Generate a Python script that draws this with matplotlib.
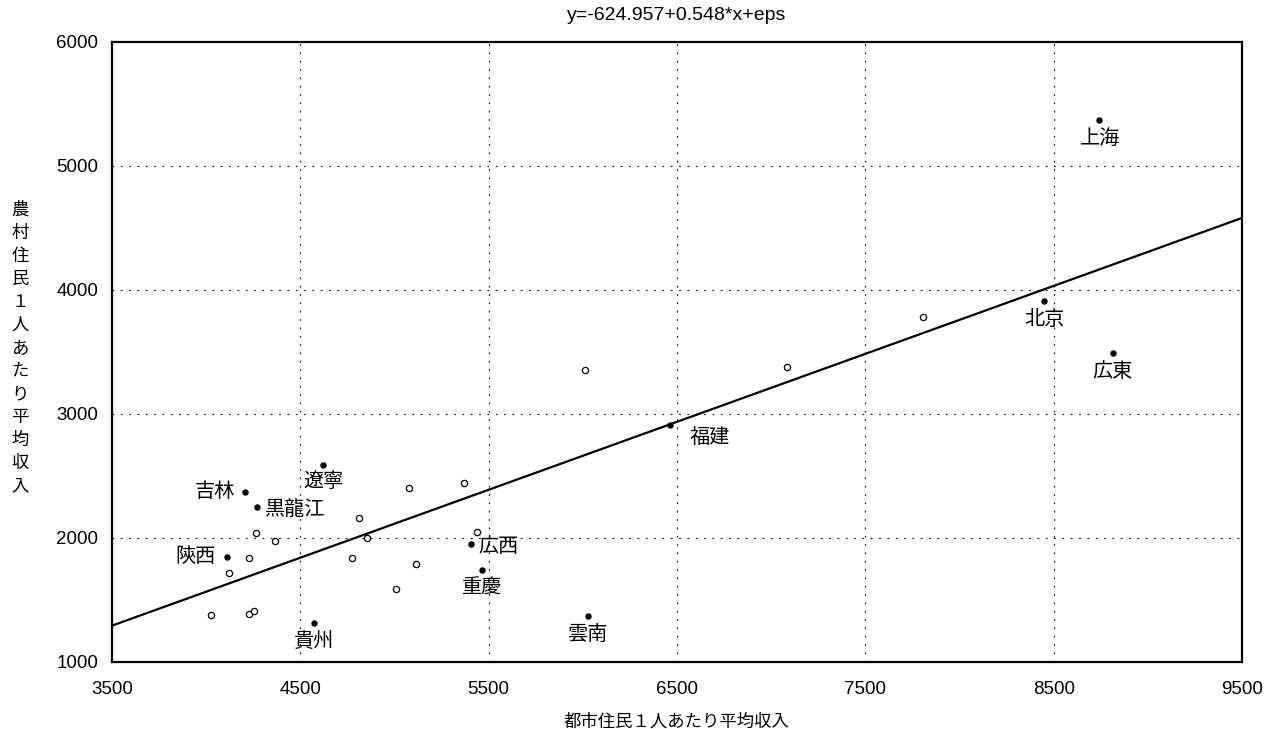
import matplotlib
matplotlib.use("Agg")
import matplotlib.pyplot as plt
import numpy as np

# ---- data ----
labeled_names = ["上海", "北京", "広東", "福建", "遼寧", "吉林", "黒龍江",
                 "陝西", "貴州", "広西", "重慶", "雲南"]
labeled_x = [8741, 8449, 8815, 6463, 4620, 4206, 4270, 4111, 4573, 5406, 5465, 6028]
labeled_y = [5371, 3911, 3492, 2911, 2589, 2371, 2250, 1847, 1315, 1952, 1742, 1371]

other_x = [4265, 4364, 4227, 4123, 4024, 4227, 4256, 4813, 4854, 4776,
           5079, 5369, 5437, 5116, 5006, 6013, 7084, 7806]
other_y = [2040, 1978, 1839, 1718, 1377, 1390, 1411, 2161, 2000, 1836,
           2403, 2441, 2046, 1793, 1591, 3357, 3379, 3782]

intercept = -624.957
slope = 0.548

x_ticks = [3500, 4500, 5500, 6500, 7500, 8500, 9500]
y_ticks = [1000, 2000, 3000, 4000, 5000, 6000]

title = "y=-624.957+0.548*x+eps"
xlabel = "都市住民１人あたり平均収入"
ylabel = "農村住民１人あたり平均収入"

# label placement (offset in points, alignment)
label_style = {
    "上海": ((1, -13), "center", "center"),
    "北京": ((0, -13), "center", "center"),
    "広東": ((0, -13), "center", "center"),
    "福建": ((14, -9), "left", "center"),
    "遼寧": ((0, -12), "center", "center"),
    "吉林": ((-7, 0), "right", "center"),
    "黒龍江": ((6, -2), "left", "center"),
    "陝西": ((-8, 0), "right", "center"),
    "貴州": ((0, -13), "center", "center"),
    "広西": ((5, -2), "left", "center"),
    "重慶": ((0, -13), "center", "center"),
    "雲南": ((0, -13), "center", "center"),
}

cjk = ["Noto Sans CJK JP", "DejaVu Sans"]
latin = ["Liberation Sans", "DejaVu Sans"]

fig = plt.figure(figsize=(12.82, 7.29), dpi=100)
ax = fig.add_axes([112 / 1282, 1 - 662 / 729, 1130 / 1282, 620 / 729])

ax.set_xlim(3500, 9500)
ax.set_ylim(1000, 6000)

# grid
for xv in x_ticks[1:-1]:
    ax.axvline(xv, color="black", lw=0.8, linestyle=(0, (1.5, 6)), zorder=1)
for yv in y_ticks[1:-1]:
    ax.axhline(yv, color="black", lw=0.8, linestyle=(0, (1.5, 6)), zorder=1)

# regression line
xl = np.array([3500, 9500])
ax.plot(xl, intercept + slope * xl, color="black", lw=1.6, zorder=2)

# points
ax.plot(other_x, other_y, linestyle="none", marker="o", markersize=4.5,
        markerfacecolor="white", markeredgecolor="black", markeredgewidth=0.9, zorder=3)
ax.plot(labeled_x, labeled_y, linestyle="none", marker="o", markersize=3.6,
        markerfacecolor="black", markeredgecolor="black", zorder=3)

for name, xv, yv in zip(labeled_names, labeled_x, labeled_y):
    (dx, dy), ha, va = label_style[name]
    ax.annotate(name, (xv, yv), xytext=(dx, dy), textcoords="offset points",
                ha=ha, va=va, fontsize=14.5, family=cjk, zorder=4)

ax.set_xticks(x_ticks)
ax.set_yticks(y_ticks)
ax.set_xticklabels([str(v) for v in x_ticks], family=latin, fontsize=13.5)
ax.set_yticklabels([str(v) for v in y_ticks], family=latin, fontsize=13.5)
ax.tick_params(axis="y", length=0, pad=10)
ax.tick_params(axis="x", length=0, pad=14)
for s in ax.spines.values():
    s.set_linewidth(1.6)

ax.set_title(title, family=latin, fontsize=14, pad=16)
ax.set_xlabel(xlabel, family=cjk, fontsize=12.5, labelpad=10)

fig.text(20 / 1282, 1 - 348 / 729, "\n".join(ylabel), family=cjk, fontsize=12.5,
         ha="center", va="center", linespacing=1.36)

fig.savefig("out.png", dpi=100)
